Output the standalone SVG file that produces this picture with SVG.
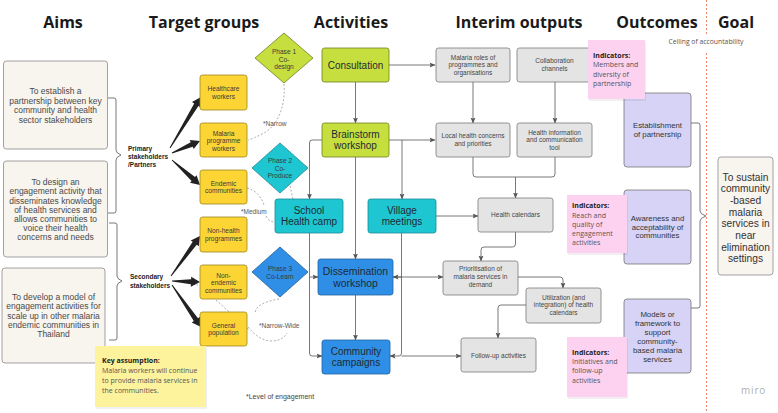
<svg xmlns="http://www.w3.org/2000/svg" width="778" height="413" viewBox="0 0 778 413">
<defs>
<marker id="ah" viewBox="0 0 6 6" refX="5.5" refY="3" markerWidth="6" markerHeight="6" orient="auto" markerUnits="userSpaceOnUse">
<path d="M0,0.5 L6,3 L0,5.5 L1.2,3 Z" fill="#555"/>
</marker>
<style>
.hd{font-family:"Open Sans",sans-serif;font-weight:700;font-size:16px;fill:#1a1a1a;text-anchor:middle}
.aim{fill:#f8f4ee;stroke:#8a8a8a;stroke-width:0.8}
.at{font-family:"Liberation Sans",Arial,sans-serif;font-size:8.5px;fill:#4a4a4a;text-anchor:middle}
.yb{fill:#fcd535;stroke:#9c8620;stroke-width:0.8}
.tt{font-family:"Liberation Sans",Arial,sans-serif;font-size:6.6px;fill:#3a3a3a;text-anchor:middle}
.lbl{font-family:"Liberation Sans",Arial,sans-serif;font-size:6.5px;font-weight:700;fill:#222}
.lime{fill:#c7df3e;stroke:#6f7d22;stroke-width:0.8}
.teal{fill:#1ec6d2;stroke:#1a8a94;stroke-width:0.8}
.blue{fill:#2f8fe6;stroke:#21629e;stroke-width:0.8}
.act{font-family:"Liberation Sans",Arial,sans-serif;font-size:10px;fill:#1e2a33;text-anchor:middle}
.gb{fill:#e4e4e4;stroke:#7a7a7a;stroke-width:0.8}
.it{font-family:"Liberation Sans",Arial,sans-serif;font-size:6.5px;fill:#444;text-anchor:middle}
.lav{fill:#d6d3f6;stroke:#777;stroke-width:0.8}
.ot{font-family:"Liberation Sans",Arial,sans-serif;font-size:7.8px;fill:#333;text-anchor:middle}
.pink{fill:#fdd2f0}
.shadow{fill:#000;opacity:0.06}
.st{font-family:"Open Sans",sans-serif;font-size:7px;fill:#555}
.sb{font-family:"Open Sans",sans-serif;font-size:7px;font-weight:700;fill:#222}
.con{fill:none;stroke:#555;stroke-width:0.8}
.dash{fill:none;stroke:#999;stroke-width:0.8;stroke-dasharray:2,1.8}
.br{fill:none;stroke:#555;stroke-width:0.8}
.note{font-family:"Liberation Sans",Arial,sans-serif;font-size:6.5px;fill:#555}
.big{fill:#222}
</style>
</defs>
<rect width="778" height="413" fill="#ffffff"/>

<!-- headers -->
<g id="headers">
<text class="hd" x="63" y="28">Aims</text>
<text class="hd" x="204" y="28">Target groups</text>
<text class="hd" x="351" y="28">Activities</text>
<text class="hd" x="519" y="28">Interim outputs</text>
<text class="hd" x="657" y="28">Outcomes</text>
<text class="hd" x="736" y="28">Goal</text>
<text x="706" y="43.5" font-family="Open Sans, sans-serif" font-size="6.8" fill="#555" text-anchor="middle">Ceiling of accountability</text>
</g>
<line x1="706.5" y1="0" x2="706.5" y2="34" stroke="#ee8a6a" stroke-width="1" stroke-dasharray="2,2"/>
<line x1="706.5" y1="53" x2="706.5" y2="413" stroke="#ee8a6a" stroke-width="1" stroke-dasharray="2,2"/>

<!-- aims -->
<g id="aim1">
<rect class="aim" x="3.5" y="61" width="104" height="88" rx="3"/>
<text class="at"><tspan x="55.5" y="94">To establish a</tspan><tspan x="55.5" y="103.5">partnership between key</tspan><tspan x="55.5" y="113">community and health</tspan><tspan x="55.5" y="122.5">sector stakeholders</tspan></text>
</g>
<g id="aim2">
<rect class="aim" x="3.5" y="161" width="104" height="96" rx="3"/>
<text class="at"><tspan x="55.5" y="185">To design an</tspan><tspan x="55.5" y="194.3">engagement activity that</tspan><tspan x="55.5" y="203.5">disseminates knowledge</tspan><tspan x="55.5" y="212.7">of health services and</tspan><tspan x="55.5" y="222">allows communities to</tspan><tspan x="55.5" y="231.2">voice their health</tspan><tspan x="55.5" y="240.4">concerns and needs</tspan></text>
</g>
<g id="aim3">
<rect class="aim" x="2" y="268" width="103" height="95" rx="3"/>
<text class="at"><tspan x="53.5" y="300">To develop a model of</tspan><tspan x="53.5" y="309.3">engagement activities for</tspan><tspan x="53.5" y="318.7">scale up in other malaria</tspan><tspan x="53.5" y="328">endemic communities in</tspan><tspan x="53.5" y="337.3">Thailand</tspan></text>
</g>

<!-- braces -->
<g id="braces">
<path class="br" d="M108,98 H114 Q116,98 116,100 V150 Q116,153 121,155 Q116,157 116,160 V211 Q116,213 114,213 H108"/>
<path class="br" d="M109,223 H115 Q117,223 117,225 V276 Q117,279 122,281 Q117,283 117,286 V338 Q117,340 115,340 H109"/>
<path class="br" d="M691,123 H698 Q700,123 700,125 V211 Q700,214 706,216 Q700,218 700,221 V306 Q700,308 698,308 H691"/>
</g>

<text class="lbl"><tspan x="128" y="150.5">Primary</tspan><tspan x="128" y="158.5">stakeholders</tspan><tspan x="128" y="166.5">/Partners</tspan></text>
<text class="lbl"><tspan x="130" y="279">Secondary</tspan><tspan x="130" y="287.5">stakeholders</tspan></text>

<!-- dashed engagement curves -->
<g id="engagement">
<path class="dash" d="M284,84 C286,108 276,128 262,134 C256,137 252,139 248,140"/>
<text class="note" x="263" y="125.5">*Narrow</text>
<path class="dash" d="M247,188 C256,190 262,198 264,205"/>
<path class="dash" d="M266,216 C268,220 271,222 275,222"/>
<path class="dash" d="M290,186 L293,199"/>
<text class="note" x="241" y="213.5">*Medium</text>
<path class="dash" d="M279,299 C268,301 256,304 255,313"/>
<path class="dash" d="M248,327 C255,335 262,341 272,341 C280,341 285,337 287,333"/>
<path class="dash" d="M178,281 L198,285"/>
<path class="dash" d="M216,300 L249,330"/>
<text class="note" x="259" y="327.5">*Narrow-Wide</text>
</g>

<!-- big black arrows -->
<g id="stakeholder-arrows">
<polygon class="big" points="170.43,148.26 198.4,106.0 200.6,107.3 201,97 192.0,102.1 194.2,103.4 169.57,147.74"/>
<polygon class="big" points="172.2,153.46 192.7,146.8 193.7,149.1 200,141 189.7,139.9 190.7,142.2 171.8,152.54"/>
<polygon class="big" points="171.67,160.37 191.6,180.9 190.0,182.7 200,185 196.6,175.3 195.0,177.1 172.33,159.63"/>
<polygon class="big" points="171.4,276.3 196.7,244.8 198.8,246.2 200,236 190.7,240.4 192.7,241.8 170.6,275.7"/>
<polygon class="big" points="172,281.5 190.9,284.2 190.8,286.7 200,282 191.2,276.7 191.1,279.2 172,280.5"/>
<polygon class="big" points="171.6,285.3 193.8,321.0 191.8,322.4 201,327 200.0,316.8 198.0,318.2 172.4,284.7"/>
</g>

<!-- target groups -->
<g id="tg-healthcare"><rect class="yb" x="200" y="75" width="47" height="35" rx="2.5"/><text class="tt"><tspan x="223.5" y="91.2">Healthcare</tspan><tspan x="223.5" y="98.8">workers</tspan></text></g>
<g id="tg-malaria"><rect class="yb" x="200" y="123" width="47" height="34" rx="2.5"/><text class="tt"><tspan x="223.5" y="135.5">Malaria</tspan><tspan x="223.5" y="143">programme</tspan><tspan x="223.5" y="150.5">workers</tspan></text></g>
<g id="tg-endemic"><rect class="yb" x="200" y="170" width="47" height="34" rx="2.5"/><text class="tt"><tspan x="223.5" y="185.5">Endemic</tspan><tspan x="223.5" y="193.2">communities</tspan></text></g>
<g id="tg-nonhealth"><rect class="yb" x="200" y="217" width="47" height="35" rx="2.5"/><text class="tt"><tspan x="223.5" y="233">Non-health</tspan><tspan x="223.5" y="240.7">programmes</tspan></text></g>
<g id="tg-nonendemic"><rect class="yb" x="200" y="265" width="47" height="34" rx="2.5"/><text class="tt"><tspan x="223.5" y="277.5">Non-</tspan><tspan x="223.5" y="285">endemic</tspan><tspan x="223.5" y="292.5">communities</tspan></text></g>
<g id="tg-general"><rect class="yb" x="200" y="312" width="47" height="34" rx="2.5"/><text class="tt"><tspan x="223.5" y="327.5">General</tspan><tspan x="223.5" y="335.2">population</tspan></text></g>

<!-- phases -->
<g id="phase1"><polygon class="lime" points="255,58 284,33 313,58 284,83"/><text class="tt"><tspan x="284" y="54">Phase 1</tspan><tspan x="284" y="61.5">Co-</tspan><tspan x="284" y="69">design</tspan></text></g>
<g id="phase2"><polygon class="teal" points="252,168 280,143 308,168 280,193"/><text class="tt"><tspan x="280" y="163">Phase 2</tspan><tspan x="280" y="170.5">Co-</tspan><tspan x="280" y="178">Produce</tspan></text></g>
<g id="phase3"><polygon class="blue" points="252,272 280,247 308,272 280,297"/><text class="tt"><tspan x="280" y="270.5">Phase 3</tspan><tspan x="280" y="278.5">Co-Learn</tspan></text></g>

<!-- connectors -->
<g id="connectors">
<path class="con" d="M389,65 H435" marker-end="url(#ah)"/>
<path class="con" d="M355.5,82 V123" marker-end="url(#ah)"/>
<path class="con" d="M389,140 H435" marker-end="url(#ah)"/>
<path class="con" d="M322,140 H312 Q309.5,140 309.5,143 V199" marker-end="url(#ah)"/>
<path class="con" d="M402,140 V199" marker-end="url(#ah)"/>
<path class="con" d="M355.5,157 V259" marker-end="url(#ah)"/>
<path class="con" d="M436,216 H478" marker-end="url(#ah)"/>
<path class="con" d="M309.5,233 V353 Q309.5,356 312,356 H322" marker-end="url(#ah)"/>
<path class="con" d="M309.5,277 H318" marker-end="url(#ah)"/>
<path class="con" d="M401.5,233 V353 Q401.5,356 399,356 H390" marker-end="url(#ah)"/>
<path class="con" d="M401.5,277 H393" marker-end="url(#ah)"/>
<path class="con" d="M393,277 H443" marker-end="url(#ah)"/>
<path class="con" d="M355.5,295 V340" marker-end="url(#ah)"/>
<path class="con" d="M401.5,356 H461" marker-end="url(#ah)"/>
<path class="con" d="M473,82 V123" marker-end="url(#ah)"/>
<path class="con" d="M555,82 V123" marker-end="url(#ah)"/>
<path class="con" d="M473,157 V174 Q473,177 476,177 H552 Q555,177 555,174 V157"/>
<path class="con" d="M515.5,177 V198" marker-end="url(#ah)"/>
<path class="con" d="M515.5,232 V244 Q515.5,247 512.5,247 H484 Q481,247 481,250 V261" marker-end="url(#ah)"/>
<path class="con" d="M518,277 H560 Q563,277 563,280 V288" marker-end="url(#ah)"/>
<path class="con" d="M526,305 H501 Q498,305 498,308 V338" marker-end="url(#ah)"/>
</g>

<!-- activities -->
<g id="act-consultation"><rect class="lime" x="322" y="48" width="67" height="34" rx="2.5"/><text class="act" x="355.5" y="68.5">Consultation</text></g>
<g id="act-brainstorm"><rect class="lime" x="322" y="123" width="67" height="34" rx="2.5"/><text class="act"><tspan x="355.5" y="137.8">Brainstorm</tspan><tspan x="355.5" y="148.8">workshop</tspan></text></g>
<g id="act-school"><rect class="teal" x="275" y="199" width="68" height="34" rx="2.5"/><text class="act"><tspan x="309" y="213.5">School</tspan><tspan x="309" y="225">Health camp</tspan></text></g>
<g id="act-village"><rect class="teal" x="368" y="199" width="68" height="34" rx="2.5"/><text class="act"><tspan x="402" y="213.5">Village</tspan><tspan x="402" y="225">meetings</tspan></text></g>
<g id="act-dissemination"><rect class="blue" x="318" y="259" width="75" height="36" rx="2.5"/><text class="act" style="font-size:10.4px"><tspan x="355.5" y="274.5">Dissemination</tspan><tspan x="355.5" y="287">workshop</tspan></text></g>
<g id="act-campaigns"><rect class="blue" x="322" y="340" width="68" height="34" rx="2.5"/><text class="act"><tspan x="356" y="354.5">Community</tspan><tspan x="356" y="365.5">campaigns</tspan></text></g>

<!-- interim outputs -->
<g id="io-roles"><rect class="gb" x="436" y="48" width="74" height="34" rx="2.5"/><text class="it"><tspan x="473" y="59.5">Malaria roles of</tspan><tspan x="473" y="67">programmes and</tspan><tspan x="473" y="74.5">organisations</tspan></text></g>
<g id="io-collab"><rect class="gb" x="517" y="48" width="75" height="34" rx="2.5"/><text class="it"><tspan x="554.5" y="63.3">Collaboration</tspan><tspan x="554.5" y="71.3">channels</tspan></text></g>
<g id="io-local"><rect class="gb" x="436" y="123" width="74" height="34" rx="2.5"/><text class="it"><tspan x="473" y="138.3">Local health concerns</tspan><tspan x="473" y="146.3">and priorities</tspan></text></g>
<g id="io-hitool"><rect class="gb" x="517" y="123" width="75" height="34" rx="2.5"/><text class="it"><tspan x="554.5" y="134.5">Health information</tspan><tspan x="554.5" y="142">and communication</tspan><tspan x="554.5" y="149.5">tool</tspan></text></g>
<g id="io-calendars"><rect class="gb" x="478" y="198" width="75" height="34" rx="2.5"/><text class="it" x="515.5" y="216.8">Health calendars</text></g>
<g id="io-prioritisation"><rect class="gb" x="443" y="261" width="75" height="34" rx="2.5"/><text class="it"><tspan x="480.5" y="270.7">Prioritisation of</tspan><tspan x="480.5" y="278.7">malaria services in</tspan><tspan x="480.5" y="287">demand</tspan></text></g>
<g id="io-utilization"><rect class="gb" x="526" y="288" width="75" height="35" rx="2.5"/><text class="it"><tspan x="563.5" y="299.5">Utilization (and</tspan><tspan x="563.5" y="307.3">integration) of health</tspan><tspan x="563.5" y="315">calendars</tspan></text></g>
<g id="io-followup"><rect class="gb" x="461" y="338" width="75" height="34" rx="2.5"/><text class="it" x="498.5" y="357.5">Follow-up activities</text></g>

<!-- outcomes -->
<g id="oc-partnership"><rect class="lav" x="624" y="93" width="67" height="74" rx="3"/><text class="ot"><tspan x="657.5" y="128.3">Establishment</tspan><tspan x="657.5" y="137">of partnership</tspan></text></g>
<g id="oc-awareness"><rect class="lav" x="624" y="190" width="67" height="74" rx="3"/><text class="ot"><tspan x="657.5" y="221">Awareness and</tspan><tspan x="657.5" y="229.5">acceptability of</tspan><tspan x="657.5" y="238">communities</tspan></text></g>
<g id="oc-models"><rect class="lav" x="624" y="299" width="67" height="74" rx="3"/><text class="ot"><tspan x="657.5" y="317">Models or</tspan><tspan x="657.5" y="326">framework to</tspan><tspan x="657.5" y="335">support</tspan><tspan x="657.5" y="344">community-</tspan><tspan x="657.5" y="353">based malaria</tspan><tspan x="657.5" y="362">services</tspan></text></g>

<!-- indicators -->
<g id="ind1"><rect class="shadow" x="589" y="41.5" width="57" height="59.5"/><rect class="pink" x="588" y="40" width="57" height="59"/><text class="sb" x="593" y="58">Indicators:</text><text class="st"><tspan x="593" y="67">Members and</tspan><tspan x="593" y="76.5">diversity of</tspan><tspan x="593" y="86">partnership</tspan></text></g>
<g id="ind2"><rect class="shadow" x="568" y="196.5" width="60" height="58.5"/><rect class="pink" x="567" y="195" width="60" height="58"/><text class="sb" x="572" y="207.5">Indicators:</text><text class="st"><tspan x="572" y="217.5">Reach and</tspan><tspan x="572" y="226.5">quality of</tspan><tspan x="572" y="235.7">engagement</tspan><tspan x="572" y="245">activities</tspan></text></g>
<g id="ind3"><rect class="shadow" x="568" y="338.5" width="60" height="60.5"/><rect class="pink" x="567" y="337" width="60" height="60"/><text class="sb" x="572" y="354.5">Indicators:</text><text class="st"><tspan x="572" y="363.8">Initiatives and</tspan><tspan x="572" y="373">follow-up</tspan><tspan x="572" y="382.5">activities</tspan></text></g>

<!-- goal -->
<g id="goal"><rect class="aim" x="718" y="157" width="55" height="118" rx="3"/><text font-family="Liberation Sans, Arial, sans-serif" font-size="10.2" fill="#333" text-anchor="middle"><tspan x="745.5" y="180.5">To sustain</tspan><tspan x="745.5" y="192.2">community</tspan><tspan x="745.5" y="203.9">-based</tspan><tspan x="745.5" y="215.6">malaria</tspan><tspan x="745.5" y="227.3">services in</tspan><tspan x="745.5" y="239">near</tspan><tspan x="745.5" y="250.7">elimination</tspan><tspan x="745.5" y="262.4">settings</tspan></text></g>

<!-- key assumption -->
<g id="key-assumption"><rect class="shadow" x="96" y="347.5" width="111" height="61.5"/><rect x="95" y="346" width="111" height="61" fill="#fdf39c"/><text class="sb" x="102" y="363">Key assumption:</text><text class="st"><tspan x="102" y="373">Malaria workers will continue</tspan><tspan x="102" y="383">to provide malaria services in</tspan><tspan x="102" y="393">the communities.</tspan></text></g>

<text x="246" y="399" font-family="Liberation Sans, Arial, sans-serif" font-size="7" fill="#444">*Level of engagement</text>
<text x="741" y="393.5" font-family="Open Sans, sans-serif" font-size="10" fill="#b0b0b0" letter-spacing="0.8">miro</text>
</svg>
